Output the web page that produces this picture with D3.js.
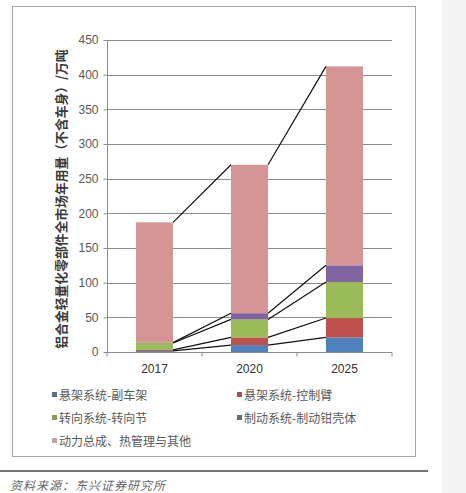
<!DOCTYPE html>
<html><head><meta charset="utf-8">
<script src="https://cdn.jsdelivr.net/npm/d3@7"></script>
<style>
html,body{margin:0;padding:0;background:#fff;}
svg{display:block;}
</style></head>
<body>
<svg id="c" width="466" height="493"></svg>
<script>
const categories = ["2017", "2020", "2025"];
const seriesNames = ["悬架系统-副车架", "悬架系统-控制臂", "转向系统-转向节", "制动系统-制动钳壳体", "动力总成、热管理与其他"];
const subframe = [1.5, 10, 21];
const controlArm = [1.5, 11, 28];
const knuckle = [10, 26, 52];
const caliper = [0.5, 9, 24];
const powertrain = [173.5, 214, 287];
const yTicks = [0, 50, 100, 150, 200, 250, 300, 350, 400, 450];
const yTitle = "铝合金轻量化零部件全市场年用量（不含车身）/万吨";
const sourceText = "资料来源：东兴证券研究所";

const seriesValues = [subframe, controlArm, knuckle, caliper, powertrain];
const barColors = ["#4F81BD", "#C0504D", "#9BBB59", "#8064A2", "#D59594"];
const legendColors = ["#5B6F8C", "#A3525A", "#8E9A5C", "#676A78", "#C4A2A6"];

const svg = d3.select("#c");
const font = "'Liberation Sans', Arial, 'Noto Sans CJK SC', sans-serif";

// page background strip on the right
svg.append("rect").attr("x", 442).attr("y", 0).attr("width", 24).attr("height", 493).attr("fill", "#f3f3f3");
// chart box
svg.append("rect").attr("x", 12.5).attr("y", 6.5).attr("width", 403).attr("height", 450)
  .attr("fill", "#fff").attr("stroke", "#a6a6a6").attr("stroke-width", 1);

const x = d3.scaleBand().domain(categories).range([107, 392]).paddingInner(0.61).paddingOuter(0.305);
const y = d3.scaleLinear().domain([0, 450]).range([352, 40]);

// gridlines
svg.append("g").selectAll("line").data(yTicks.filter(d => d > 0)).join("line")
  .attr("x1", 107).attr("x2", 392)
  .attr("y1", d => Math.round(y(d)) + 0.5).attr("y2", d => Math.round(y(d)) + 0.5)
  .attr("stroke", "#8c8c8c").attr("stroke-width", 1);

// stacked data
const rows = categories.map((c, i) => {
  const o = { cat: c };
  seriesNames.forEach((s, j) => o[s] = seriesValues[j][i]);
  return o;
});
const stacked = d3.stack().keys(seriesNames)(rows);

svg.append("g").selectAll("g").data(stacked).join("g")
  .attr("fill", (d, i) => barColors[i])
  .selectAll("rect").data(d => d).join("rect")
  .attr("x", d => x(d.data.cat))
  .attr("width", x.bandwidth())
  .attr("y", d => y(d[1]))
  .attr("height", d => y(d[0]) - y(d[1]));

// series lines
const lineG = svg.append("g").attr("stroke", "#111").attr("stroke-width", 1.2).attr("fill", "none");
stacked.forEach(layer => {
  for (let i = 0; i < categories.length - 1; i++) {
    const a = layer[i], b = layer[i + 1];
    lineG.append("line")
      .attr("x1", x(a.data.cat) + x.bandwidth()).attr("y1", y(a[1]))
      .attr("x2", x(b.data.cat)).attr("y2", y(b[1]));
  }
});

// y axis
const yAxis = d3.axisLeft(y).tickValues(yTicks).tickSize(4).tickPadding(5);
const ya = svg.append("g").attr("transform", "translate(107.5,0)").call(yAxis);
ya.select(".domain").attr("stroke", "#8c8c8c").attr("d", "M0,40V352");
ya.selectAll(".tick line").attr("stroke", "#8c8c8c");
ya.selectAll(".tick text").attr("fill", "#595959").style("font-family", font).style("font-size", "12px");

// x axis
const xa = svg.append("g").attr("transform", "translate(0,352.5)");
xa.append("line").attr("x1", 107).attr("x2", 392).attr("stroke", "#8c8c8c");
const edges = [x.range()[0]].concat(categories.map(c => x(c) - x.step() * x.paddingInner() / 2 + x.step()));
xa.selectAll("line.t").data(edges).join("line").attr("class", "t")
  .attr("x1", d => d).attr("x2", d => d).attr("y1", 0).attr("y2", 4).attr("stroke", "#8c8c8c");
xa.selectAll("text").data(categories).join("text")
  .attr("x", d => x(d) + x.bandwidth() / 2).attr("y", 20)
  .attr("text-anchor", "middle").attr("fill", "#333")
  .style("font-family", font).style("font-size", "12px").text(d => d);

// y title
svg.append("text").attr("transform", "translate(66,199) rotate(-90)")
  .attr("text-anchor", "middle").attr("fill", "#3a3a3a")
  .style("font-family", "'Noto Sans CJK SC', sans-serif").style("font-size", "12.8px").style("font-weight", "bold")
  .text(yTitle);

// legend
const legPos = [[52, 396], [237, 396], [52, 419], [237, 419], [52, 442]];
const lg = svg.append("g").selectAll("g").data(seriesNames).join("g")
  .attr("transform", (d, i) => `translate(${legPos[i][0]},${legPos[i][1]})`);
lg.append("rect").attr("x", 0).attr("y", -4).attr("width", 5).attr("height", 5).attr("fill", (d, i) => legendColors[i]);
lg.append("text").attr("x", 7).attr("y", 0).attr("dy", "0.35em").attr("fill", "#595959")
  .style("font-family", "'Noto Sans CJK SC', sans-serif").style("font-size", "12px").text(d => d);

// separator and source
svg.append("line").attr("x1", 0).attr("x2", 428).attr("y1", 471).attr("y2", 471).attr("stroke", "#444").attr("stroke-width", 1.3);
svg.append("text").attr("x", 10).attr("y", 490).attr("fill", "#666")
  .style("font-family", "'Noto Sans CJK SC', sans-serif").style("font-size", "12px").style("font-style", "italic")
  .style("letter-spacing", "1px")
  .text(sourceText);
</script>
</body></html>
